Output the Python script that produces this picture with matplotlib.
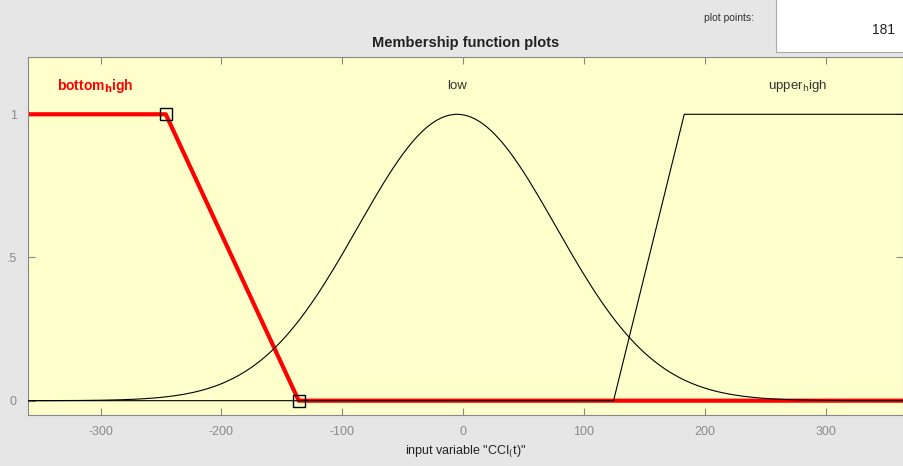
import numpy as np
import matplotlib
import matplotlib.pyplot as plt

matplotlib.use('Agg')
plt.rcParams['font.family'] = ['Liberation Sans', 'DejaVu Sans']
plt.rcParams['axes.unicode_minus'] = False

# variable range and sampling (plot points: 181)
x_range = [-360, 364]
plot_points = 181

# membership function parameters
bottom_high_x = [-360, -246, -136, 364]
bottom_high_y = [1, 1, 0, 0]
low_sigma = 82
low_center = -5
upper_high_x = [-360, 124.5, 183, 364]
upper_high_y = [0, 0, 1, 1]

mf_names = [r'bottom$_\mathbf{h}$igh', 'low', r'upper$_\mathrm{h}$igh']
label_x = [-304, -5, 277]
x_ticks = [-300, -200, -100, 0, 100, 200, 300]
y_ticks = [0, 0.5, 1]
y_tick_labels = ['0', '.5', '1']

fig = plt.figure(figsize=(9.04, 4.66), dpi=100, facecolor='#e6e6e6')
ax = fig.add_axes([28 / 904, 51 / 466, 875 / 904, 358 / 466])
ax.set_facecolor('#ffffcc')

xs = np.linspace(x_range[0], x_range[1], plot_points)
low_y = np.exp(-(xs - low_center) ** 2 / (2 * low_sigma ** 2))

# selected mf in red with square handles
ax.plot(bottom_high_x, bottom_high_y, color='red', lw=3, zorder=2)
ax.plot(bottom_high_x[1:3], bottom_high_y[1:3], ls='none', marker='s', ms=8.5,
        mfc='none', mec='black', mew=1, zorder=4)
ax.plot(xs, low_y, color='black', lw=0.8, zorder=3)
ax.plot(upper_high_x, upper_high_y, color='black', lw=0.8, zorder=3)

ax.text(label_x[0], 1.1, mf_names[0], color='red', fontweight='bold',
        fontsize=10, ha='center', va='center')
ax.text(label_x[1], 1.1, mf_names[1], color='#333333', fontsize=9.5,
        ha='center', va='center')
ax.text(label_x[2], 1.1, mf_names[2], color='#333333', fontsize=9.5,
        ha='center', va='center')

ax.set_xlim(-360, 364)
ax.set_ylim(-0.05, 1.2)
ax.set_xticks(x_ticks)
ax.set_yticks(y_ticks)
ax.set_yticklabels(y_tick_labels)
ax.tick_params(direction='in', length=5, colors='#888888', labelcolor='#8a8a8a',
               labelsize=9, top=True, right=True, pad=8)
for s in ax.spines.values():
    s.set_color('#888888')
    s.set_linewidth(0.8)
ax.set_xlabel('input variable "CCI$_($t)"', fontsize=9, color='#222222', labelpad=4)

fig.text(466 / 904, 1 - 43 / 466, 'Membership function plots', fontsize=10.5,
         fontweight='bold', ha='center', va='center', color='#222222')

# plot points box
fig.text(729 / 904, 1 - 18 / 466, 'plot points:', fontsize=7.5, ha='center',
         va='center', color='#333333')
box = fig.add_axes([776 / 904, 1 - 52 / 466, 128 / 904, 52 / 466])
box.set_facecolor('white')
box.set_xticks([])
box.set_yticks([])
for k in ['top', 'right']:
    box.spines[k].set_visible(False)
for k in ['left', 'bottom']:
    box.spines[k].set_color('#aaaaaa')
box.text(0.93, 0.42, str(plot_points), fontsize=10, ha='right', va='center',
         color='#222222', transform=box.transAxes)

fig.savefig('out.png', dpi=100, facecolor=fig.get_facecolor())
